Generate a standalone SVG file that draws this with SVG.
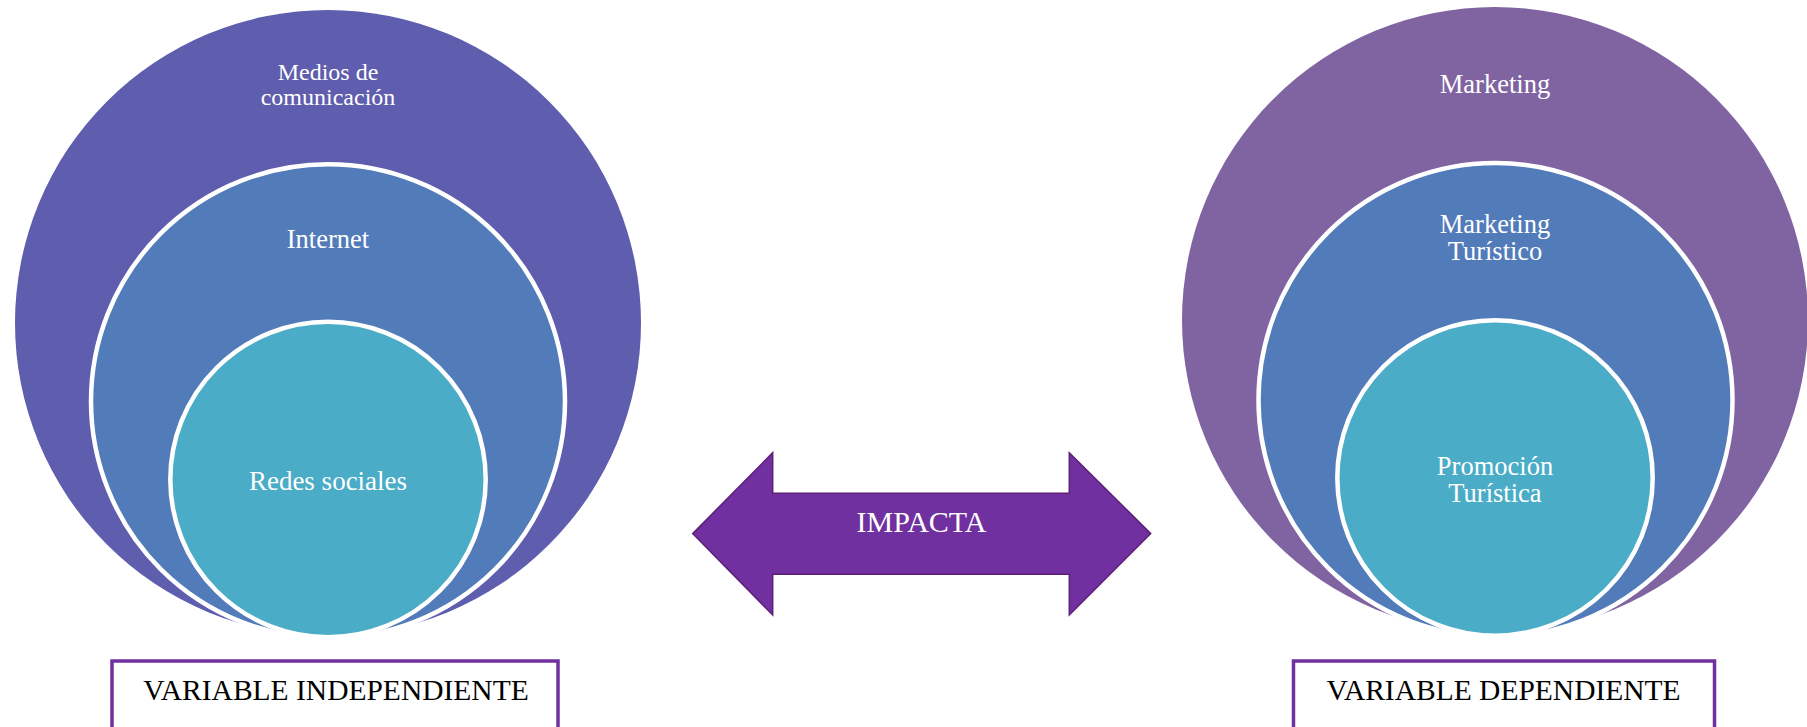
<svg xmlns="http://www.w3.org/2000/svg" width="1807" height="727" viewBox="0 0 1807 727">
<style>
.lbl{font-family:"Liberation Serif","Times New Roman",serif;fill:#ffffff;text-anchor:middle}
.ring{stroke:#ffffff;stroke-width:4.5}
.box{fill:#ffffff;stroke:#7030A0;stroke-width:3.5}
.cap{font-family:"Liberation Serif","Times New Roman",serif;fill:#000000;text-anchor:middle;font-size:29.5px}
</style>
<rect width="1807" height="727" fill="#ffffff"/>
<g id="left-outer">
<circle cx="328" cy="323" r="313" fill="#5F5DAE"/>
<text class="lbl" x="328" y="79.5" font-size="24">Medios de</text>
<text class="lbl" x="328" y="105" font-size="24">comunicación</text>
</g>
<g id="left-middle">
<circle class="ring" cx="328" cy="401.3" r="237" fill="#527BBA"/>
<text class="lbl" x="328" y="248" font-size="26.5">Internet</text>
</g>
<g id="left-inner">
<circle class="ring" cx="328" cy="479.5" r="157.7" fill="#4AACC6"/>
<text class="lbl" x="328" y="489.5" font-size="27">Redes sociales</text>
</g>
<g id="right-outer">
<circle cx="1495" cy="320" r="313" fill="#8064A2"/>
<text class="lbl" x="1495" y="93" font-size="26.5">Marketing</text>
</g>
<g id="right-middle">
<circle class="ring" cx="1495.5" cy="400" r="237" fill="#527BBA"/>
<text class="lbl" x="1495" y="232.5" font-size="26.5">Marketing</text>
<text class="lbl" x="1495" y="259.5" font-size="26.5">Turístico</text>
</g>
<g id="right-inner">
<circle class="ring" cx="1495" cy="478" r="157.7" fill="#4AACC6"/>
<text class="lbl" x="1495" y="474.5" font-size="26.5">Promoción</text>
<text class="lbl" x="1495" y="501.5" font-size="26.5">Turística</text>
</g>
<g id="connectors">
<g id="impacta-arrow">
<polygon points="692.7,533.6 772.7,452.7 772.7,493.3 1069.3,493.3 1069.3,452.7 1150.7,533.6 1069.3,615 1069.3,574.3 772.7,574.3 772.7,615" fill="#7030A0" stroke="#5E1F78" stroke-width="1.5"/>
<text class="lbl" x="921.5" y="531.7" font-size="30">IMPACTA</text>
</g>
</g>
<g id="box-independiente">
<rect class="box" x="112" y="661" width="446" height="80"/>
<text class="cap" x="336" y="700">VARIABLE INDEPENDIENTE</text>
</g>
<g id="box-dependiente">
<rect class="box" x="1293.5" y="661" width="421" height="80"/>
<text class="cap" x="1503.5" y="700">VARIABLE DEPENDIENTE</text>
</g>
</svg>
